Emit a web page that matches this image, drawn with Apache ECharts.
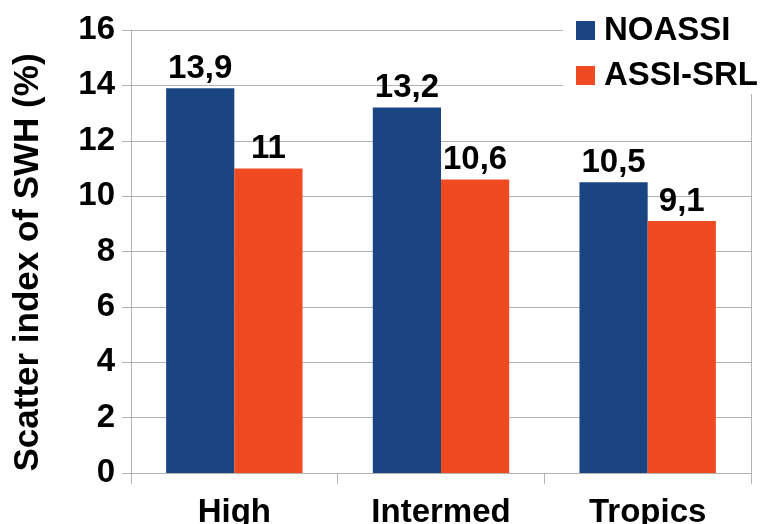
<!DOCTYPE html>
<html>
<head>
<meta charset="utf-8">
<script src="https://cdn.jsdelivr.net/npm/echarts@6/dist/echarts.min.js"></script>
<style>
html,body{margin:0;padding:0;background:#fff;}
#chart{width:761px;height:524px;}
</style>
</head>
<body>
<div id="chart"></div>
<script>
const categories = ['High', 'Intermed', 'Tropics'];
const noassi = [13.9, 13.2, 10.5];
const assiSrl = [11, 10.6, 9.1];
const seriesNames = ['NOASSI', 'ASSI-SRL'];
const yTicks = [0, 2, 4, 6, 8, 10, 12, 14, 16];

const FONT = '"Liberation Sans", Arial, sans-serif';
const chart = echarts.init(document.getElementById('chart'));
const labelFmt = p => String(p.value).replace('.', ',');
const barLabel = {
  show: true, position: 'top', distance: 3,
  color: '#000', fontWeight: 'bold', fontSize: 33, fontFamily: FONT,
  formatter: labelFmt
};
chart.setOption({
  animation: false,
  backgroundColor: '#fff',
  textStyle: { fontFamily: FONT },
  grid: { left: 131, right: 10, top: 30, bottom: 51, containLabel: false, outerBoundsMode: 'none' },
  legend: {
    data: seriesNames,
    orient: 'vertical',
    left: 563, top: 0,
    padding: [14, 10, 2, 13],
    backgroundColor: '#fff',
    itemWidth: 19, itemHeight: 19,
    itemGap: 12,
    icon: 'rect',
    textStyle: { fontSize: 33, fontWeight: 'bold', color: '#000', fontFamily: FONT, padding: [0, 0, 0, 4] }
  },
  xAxis: {
    type: 'category',
    data: categories,
    axisLine: { show: true, lineStyle: { color: '#b3b3b3', width: 1 } },
    axisTick: { show: true, length: 11, alignWithLabel: false, lineStyle: { color: '#b3b3b3' } },
    axisLabel: { fontSize: 33, fontWeight: 'bold', color: '#000', margin: 23, fontFamily: FONT },
    splitLine: { show: false }
  },
  yAxis: [{
    type: 'value',
    min: yTicks[0], max: yTicks[yTicks.length - 1], interval: 2,
    name: 'Scatter index of SWH (%)',
    nameLocation: 'middle',
    nameGap: 85,
    nameRotate: 90,
    nameTextStyle: { fontSize: 35, fontWeight: 'bold', color: '#000', fontFamily: FONT, padding: [0, 22, 0, 0] },
    axisLine: { show: true, lineStyle: { color: '#b3b3b3', width: 1 } },
    axisTick: { show: true, length: 9, lineStyle: { color: '#b3b3b3' } },
    axisLabel: { fontSize: 33, fontWeight: 'bold', color: '#000', margin: 16, fontFamily: FONT },
    splitLine: { show: true, lineStyle: { color: '#b3b3b3', width: 1 } }
  }, {
    type: 'value', position: 'right',
    min: yTicks[0], max: yTicks[yTicks.length - 1], interval: 2,
    axisLine: { show: true, lineStyle: { color: '#b3b3b3', width: 1 } },
    axisTick: { show: false }, axisLabel: { show: false }, splitLine: { show: false }
  }],
  series: [{
    name: seriesNames[0], type: 'bar', data: noassi,
    barGap: '0%', barCategoryGap: '34%',
    itemStyle: { color: '#1a4582' },
    label: barLabel
  }, {
    name: seriesNames[1], type: 'bar', data: assiSrl,
    barGap: '0%', barCategoryGap: '34%',
    itemStyle: { color: '#f04a22' },
    label: barLabel
  }]
});
</script>
</body>
</html>
